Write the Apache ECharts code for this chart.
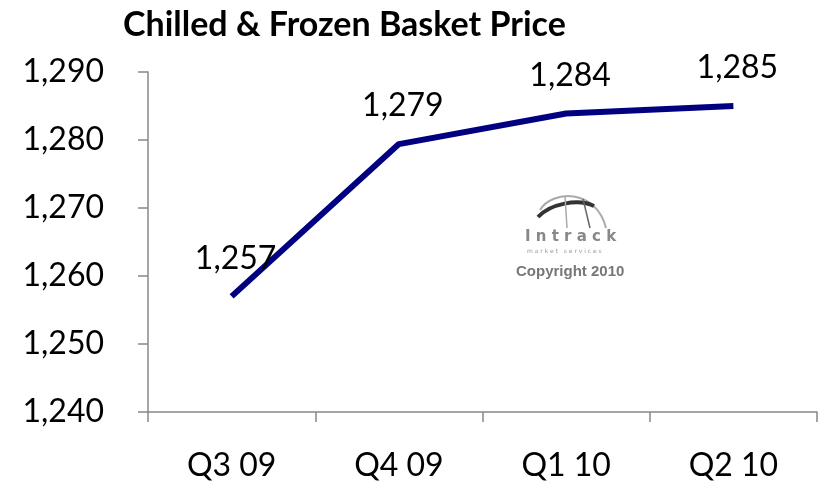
<!DOCTYPE html>
<html><head><meta charset="utf-8">
<script src="https://cdn.jsdelivr.net/npm/echarts@6/dist/echarts.min.js"></script>
<style>html,body{margin:0;padding:0;background:#fff}#c{width:825px;height:491px}</style>
</head><body><div id="c"></div>
<script>
const categories = ['Q3 09', 'Q4 09', 'Q1 10', 'Q2 10'];
const prices = [1257, 1279.4, 1283.9, 1285];
const yTicks = [1240, 1250, 1260, 1270, 1280, 1290];
const titleText = 'Chilled & Frozen Basket Price';

const FONT = 'Lato, "Open Sans", sans-serif';
const fmt = v => Math.round(v).toLocaleString('en-US');
const chart = echarts.init(document.getElementById('c'));
chart.setOption({
  animation: false,
  title: { text: titleText, left: 118, top: 3,
    textStyle: { fontFamily: FONT, fontWeight: 'bold', fontSize: 34, color: '#000' } },
  grid: { left: 148, right: 8, top: 72, bottom: 79 },
  xAxis: { type: 'category', data: categories, boundaryGap: true,
    axisLine: { lineStyle: { color: '#888', width: 1.5 } },
    axisTick: { show: true, length: 10, lineStyle: { color: '#888', width: 1.5 } },
    axisLabel: { fontFamily: FONT, fontSize: 32, color: '#000', margin: 38 } },
  yAxis: { type: 'value', min: yTicks[0], max: yTicks[yTicks.length-1], interval: 10,
    splitLine: { show: false },
    axisLine: { show: true, lineStyle: { color: '#888', width: 1.5 } },
    axisTick: { show: true, length: 10, lineStyle: { color: '#888', width: 1.5 } },
    axisLabel: { fontFamily: FONT, fontSize: 32, color: '#000', margin: 44, formatter: fmt } },
  graphic: [
    { type: 'group', silent: true, children: [
      { type: 'bezierCurve', shape: { x1: 540, y1: 210, cpx1: 552, cpy1: 190, cpx2: 596, cpy2: 188, x2: 606, y2: 228 },
        style: { stroke: '#aaa', lineWidth: 2, fill: null } },
      { type: 'bezierCurve', shape: { x1: 538, y1: 217, cpx1: 550, cpy1: 204, cpx2: 578, cpy2: 198, x2: 594, y2: 206 },
        style: { stroke: '#333', lineWidth: 4, fill: null } },
      { type: 'line', shape: { x1: 565, y1: 196, x2: 567, y2: 228 }, style: { stroke: '#aaa', lineWidth: 1.5 } },
      { type: 'line', shape: { x1: 583, y1: 199, x2: 590, y2: 228 }, style: { stroke: '#666', lineWidth: 1.5 } },
      { type: 'text', x: 525, y: 230, style: { text: 'I n t r a c k', fontFamily: 'DejaVu Sans', fontWeight: 'bold', fontSize: 15, fill: '#888' } },
      { type: 'text', x: 527, y: 248, style: { text: 'm a r k e t   s e r v i c e s', fontFamily: 'DejaVu Sans', fontSize: 6, fill: '#999' } },
      { type: 'text', x: 516, y: 264, style: { text: 'Copyright 2010', fontFamily: 'Liberation Sans', fontWeight: 'bold', fontSize: 15, fill: '#777' } }
    ] }
  ],
  series: [{
    type: 'line', data: prices, symbol: 'circle', symbolSize: 0, showSymbol: true,
    itemStyle: { color: '#000080', opacity: 0 },
    lineStyle: { color: '#000080', width: 6 },
    label: { show: true, position: 'top', distance: 22, offset: [4, 0], formatter: p => fmt(p.value),
      fontFamily: FONT, fontSize: 32, color: '#000', opacity: 1 }
  }]
});
</script></body></html>
